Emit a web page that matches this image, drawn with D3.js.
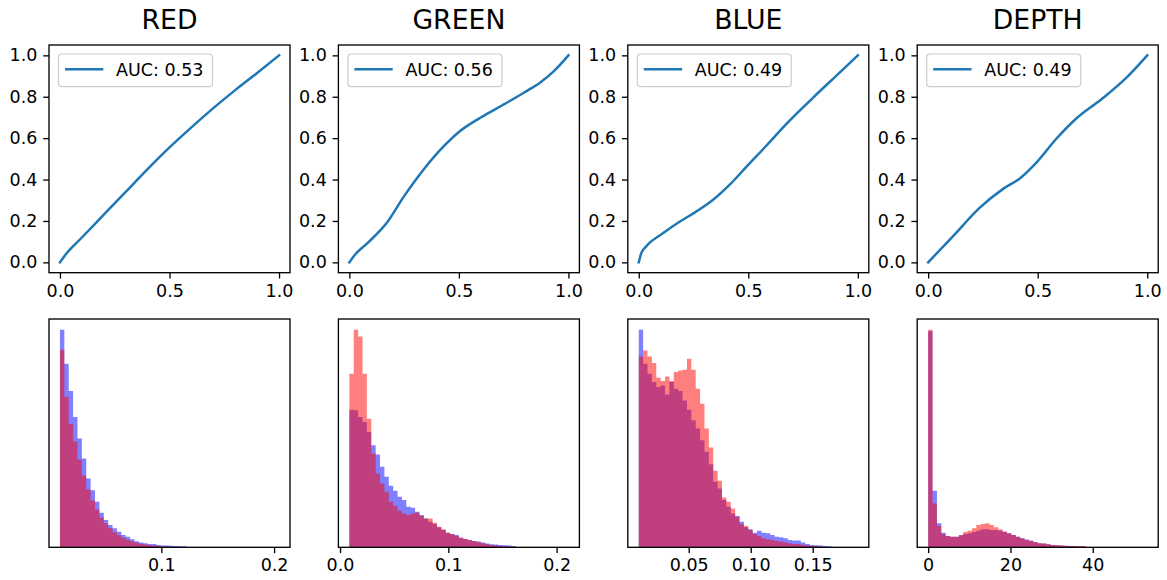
<!DOCTYPE html>
<html><head><meta charset="utf-8">
<script src="https://cdn.jsdelivr.net/npm/d3@7"></script>
<style>
body{margin:0;background:#fff}
svg text{font-family:"DejaVu Sans",sans-serif;fill:#000}
</style>
</head><body>
<svg id="chart" width="1167" height="580"></svg>
<script>
// Channel names and ROC areas
const channels = ["RED", "GREEN", "BLUE", "DEPTH"];
const aucLabels = ["0.53", "0.56", "0.49", "0.49"];

// ROC curves as [false positive rate, true positive rate]
const rocRed = [[0,0],[0.02,0.03],[0.1,0.12],[0.2,0.23],[0.3,0.34],[0.4,0.45],[0.5,0.555],[0.6,0.652],[0.7,0.745],[0.8,0.832],[0.9,0.915],[1,1]];
const rocGreen = [[0,0],[0.02,0.03],[0.09,0.1],[0.17,0.19],[0.25,0.32],[0.34,0.45],[0.43,0.56],[0.5,0.63],[0.6,0.7],[0.7,0.76],[0.8,0.822],[0.87,0.868],[0.93,0.92],[1,1]];
const rocBlue = [[0,0],[0.011,0.043],[0.033,0.076],[0.11,0.14],[0.186,0.196],[0.262,0.245],[0.338,0.301],[0.414,0.374],[0.49,0.46],[0.581,0.562],[0.673,0.668],[0.795,0.795],[0.9,0.9],[1,1]];
const rocDepth = [[0,0],[0.114,0.127],[0.236,0.264],[0.342,0.355],[0.418,0.405],[0.494,0.482],[0.585,0.597],[0.676,0.695],[0.798,0.794],[0.904,0.891],[1,1]];
const rocCurves = [rocRed, rocGreen, rocBlue, rocDepth];

// Histogram value ranges (50 equal bins each) and axis ticks
const histRanges = [[0.0101, 0.2044], [0.0086, 0.2109], [0.0097, 0.1864], [0, 53.24]];
const histTicks = [[0.1, 0.2], [0, 0.1, 0.2], [0.05, 0.10, 0.15], [0, 20, 40]];
const histFormats = [".1f", ".1f", ".2f", "d"];
const binCount = 50;

// Bin heights, first class (blue)
const histBlueRed = [218,184,156.7,130.7,109,89,69,57.3,45.7,34.7,27.3,22.3,19,15.7,12.3,10.7,8,6,4.7,4,3.3,3.3,2.3,1.7,1.7,1.5,1.3,1,1];
const histBlueGreen = [138,137.3,130.7,125.7,115.7,102.3,93,80.7,70.7,61.7,56.7,50.7,47.3,40.7,39.7,35.7,32.3,29,25.7,23.3,20,17.3,14.7,13.3,12.3,9.7,8.3,7.3,6.3,5.7,4.7,3.7,3,2.7,2.3,2,1.7,1.3];
const histBlueBlue = [218,184,174,165.7,160.7,162.3,153.3,165.7,159,156.7,147.3,138,127.3,119,107.3,95.7,83.3,65.7,59,47.3,40.7,34,31.3,25.7,20,18,14.7,16.7,14.7,14,12.3,10.7,10,9,7.3,6.7,6.7,4.7,3.3,2.3,2,1.7,1.3,1];
const histBlueDepth = [216.7,56.7,24,14.7,11.3,10.7,10.7,12,13.3,14,15.3,16.7,18,18,17.3,17.3,16.7,15.7,14,12.3,10.7,9,7.7,6.7,5.3,4,3.7,3,2.3,2,1.7,1.5,1.3,1.2,1,1];

// Bin heights, second class (red)
const histRedRed = [198,151,124,106,88,72,58,47,38,30,24,19,15,12,9.5,7.5,6,4.6,3.6,2.8,2.2,1.7,1.3,1,0.7,0.4];
const histRedGreen = [174,218,211.3,174,129,94,74,64,55.7,45.7,41.3,36.7,34,32.3,34,34.7,31.3,29,29,24.7,20.7,18,14.7,13.3,11.3,9.7,8.3,7.3,6.3,5,4,3,2.3,1.7,1.3,1,0.7,0.5];
const histRedBlue = [191.3,197.3,191.3,184.7,170,166.7,171.3,166.7,175.7,177.3,178,189,178,159,144,119,100,76.7,66.7,50,45.7,39,30.7,23.3,21.3,17.3,13.3,11.3,9,8,7.3,6.3,5.7,4.7,4,3.3,3,2.3,1.7,1.3,1,0.7];
const histRedDepth = [218,44,21.3,13.3,11.3,10.7,10.7,12.3,15.3,16.7,19,22.3,23.3,24,22.3,20,18,15.7,14,12.3,10.7,9,7.3,6.3,5,4,3.7,3,2.3,2,1.7,1.5,1.3,1.2,1,1];

const histBlue = [histBlueRed, histBlueGreen, histBlueBlue, histBlueDepth];
const histRed = [histRedRed, histRedGreen, histRedBlue, histRedDepth];

// Layout
const panelLefts = [49, 338.4, 627.8, 917.2];
const panelW = 241;
const rocTop = 45, rocBottom = 272.7;
const histTop = 319, histBottom = 547.3;
const tickLen = 5.8, tickPad = 5.8, fontSize = 17.5;

const svg = d3.select("#chart");

function styleAxis(g) {
  g.select(".domain").remove();
  g.selectAll(".tick line").attr("stroke", "#000").attr("stroke-width", 1.33);
  g.selectAll(".tick text").attr("font-size", fontSize).attr("fill", "#000");
}

function frame(g, x0, y0, w, h) {
  g.append("rect").attr("x", x0).attr("y", y0).attr("width", w).attr("height", h)
    .attr("fill", "none").attr("stroke", "#000").attr("stroke-width", 1.33);
}

channels.forEach((name, i) => {
  const left = panelLefts[i];
  const g = svg.append("g");

  // Title
  g.append("text").attr("x", left + panelW / 2).attr("y", 28.5)
    .attr("text-anchor", "middle").attr("font-size", 26.7).text(name);

  // ROC panel
  const x = d3.scaleLinear().domain([-0.05, 1.05]).range([left, left + panelW]);
  const y = d3.scaleLinear().domain([-0.05, 1.05]).range([rocBottom, rocTop]);

  g.append("path").datum(rocCurves[i])
    .attr("fill", "none").attr("stroke", "#1f77b4").attr("stroke-width", 2.5)
    .attr("stroke-linecap", "square")
    .attr("d", d3.line().x(d => x(d[0])).y(d => y(d[1])).curve(d3.curveMonotoneX));

  g.append("g").attr("transform", `translate(0,${rocBottom})`)
    .call(d3.axisBottom(x).tickValues([0, 0.5, 1]).tickFormat(d3.format(".1f"))
      .tickSize(tickLen).tickPadding(tickPad))
    .call(styleAxis);
  g.append("g").attr("transform", `translate(${left},0)`)
    .call(d3.axisLeft(y).tickValues([0, 0.2, 0.4, 0.6, 0.8, 1]).tickFormat(d3.format(".1f"))
      .tickSize(tickLen).tickPadding(tickPad))
    .call(styleAxis);
  frame(g, left, rocTop, panelW, rocBottom - rocTop);

  // Legend
  const lg = g.append("g").attr("transform", `translate(${left + 9.5},${rocTop + 9})`);
  lg.append("rect").attr("width", 154).attr("height", 32.7).attr("rx", 3.5)
    .attr("fill", "rgba(255,255,255,0.8)").attr("stroke", "#cccccc").attr("stroke-width", 1.2);
  lg.append("line").attr("x1", 6.5).attr("x2", 44.8).attr("y1", 15.3).attr("y2", 15.3)
    .attr("stroke", "#1f77b4").attr("stroke-width", 2.5);
  lg.append("text").attr("x", 57.5).attr("y", 15.3).attr("dy", "0.36em")
    .attr("font-size", fontSize).text("AUC: " + aucLabels[i]);

  // Histogram panel
  const [lo, hi] = histRanges[i];
  const pad = (hi - lo) * 0.05;
  const hx = d3.scaleLinear().domain([lo - pad, hi + pad]).range([left, left + panelW]);
  const maxH = d3.max([...histBlue[i], ...histRed[i]]);
  const hy = d3.scaleLinear().domain([0, maxH * 1.05]).range([histBottom, histTop]);
  const binW = (hi - lo) / binCount;

  const stepArea = d3.area()
    .x(d => hx(d[0])).y0(histBottom).y1(d => hy(d[1]))
    .curve(d3.curveStepAfter);
  const toSteps = counts => {
    const pts = counts.map((c, k) => [lo + k * binW, c]);
    pts.push([lo + counts.length * binW, counts[counts.length - 1]]);
    return pts;
  };

  g.append("path").datum(toSteps(histBlue[i]))
    .attr("fill", "blue").attr("fill-opacity", 0.5).attr("d", stepArea);
  g.append("path").datum(toSteps(histRed[i]))
    .attr("fill", "red").attr("fill-opacity", 0.5).attr("d", stepArea);

  g.append("g").attr("transform", `translate(0,${histBottom})`)
    .call(d3.axisBottom(hx).tickValues(histTicks[i]).tickFormat(d3.format(histFormats[i]))
      .tickSize(tickLen).tickPadding(tickPad))
    .call(styleAxis);
  frame(g, left, histTop, panelW, histBottom - histTop);
});
</script>
</body></html>
